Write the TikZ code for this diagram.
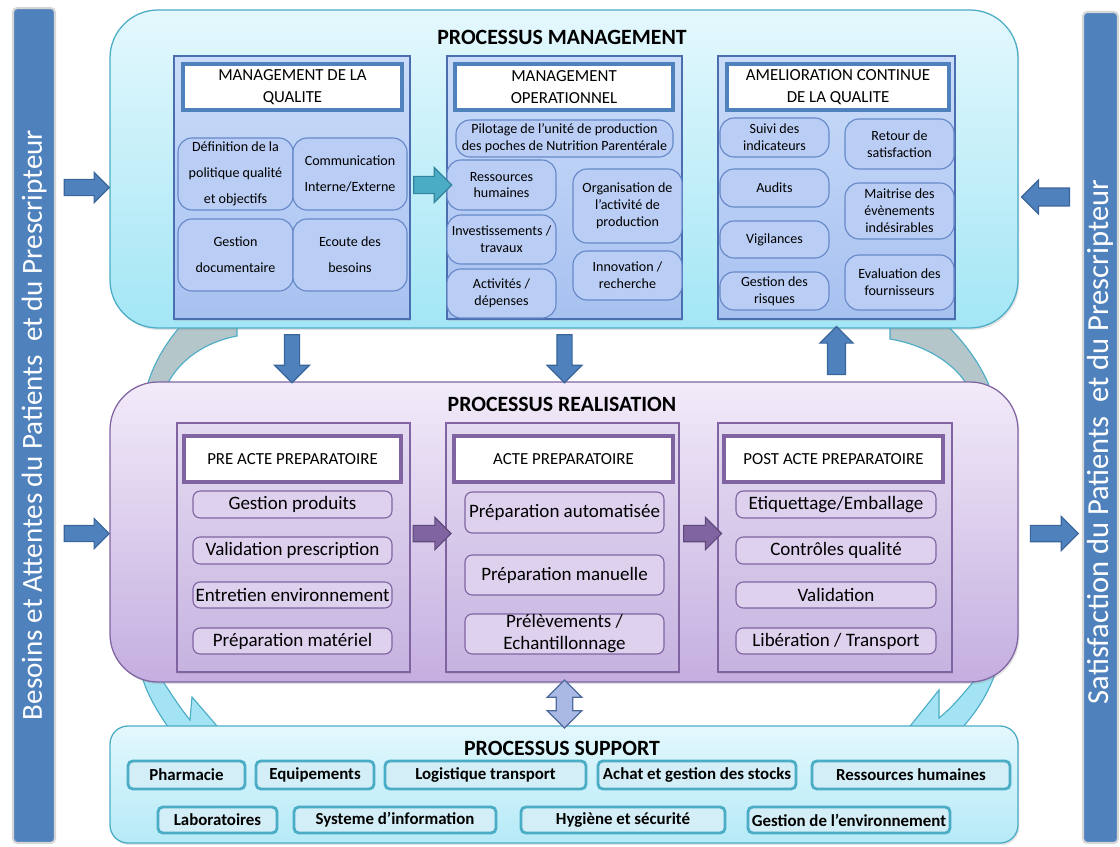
\documentclass[tikz,border=0pt]{standalone}
\usepackage{fontspec}
\usepackage{graphicx}
\setmainfont{Carlito}
\usetikzlibrary{calc,shapes.arrows,shadows}

\definecolor{barblue}{HTML}{4F81BD}
\definecolor{barline}{HTML}{D6D6D6}
\definecolor{arrowblueline}{HTML}{3A659A}
\definecolor{tealline}{HTML}{4BACC6}
\definecolor{tealdark}{HTML}{31849B}
\definecolor{cyantop}{HTML}{E4F8FD}
\definecolor{cyanbot}{HTML}{A3E6F5}
\definecolor{lavtop}{HTML}{F2EBF9}
\definecolor{lavbot}{HTML}{C4AEE0}
\definecolor{purpline}{HTML}{8064A2}
\definecolor{purpdark}{HTML}{5F497A}
\definecolor{panelbluetop}{HTML}{CADCF9}
\definecolor{panelbluebot}{HTML}{A7C1F0}
\definecolor{panelblueline}{HTML}{4A6EB0}
\definecolor{taskblue}{HTML}{BACDF4}
\definecolor{taskblueline}{HTML}{6688C8}
\definecolor{panelpurptop}{HTML}{E4DBF1}
\definecolor{panelpurpbot}{HTML}{C6B3E0}
\definecolor{taskpurp}{HTML}{DDD1EE}
\definecolor{supptop}{HTML}{E3F8FD}
\definecolor{suppbot}{HTML}{B5EAF7}
\definecolor{supptaskfill}{HTML}{D3EEF6}
\definecolor{cyclegrayfill}{HTML}{B5C6CB}
\definecolor{cyclecyanfill}{HTML}{A4E3F3}
\definecolor{dblline}{HTML}{4F6A9F}
\definecolor{dbledge}{HTML}{A9B9E3}

\begin{document}
\begin{tikzpicture}[x=0.025cm,y=-0.025cm]

    \tikzset{
      boxsize/.style 2 args={minimum width=#1*0.025cm, minimum height=#2*0.025cm},
      softshadow/.style={
        drop shadow={opacity=0.22, shadow xshift=1pt, shadow yshift=-1.5pt},
      },
      sidebar/.style={draw=barline, line width=1.5pt, fill=barblue, rounded corners=3pt, inner sep=0pt},
      sidetext/.style={text=white, inner sep=0pt, rotate=90, font=\fontsize{20}{24}\selectfont},
      proctitle/.style={inner sep=0pt, font=\fontsize{15.5}{18}\selectfont\bfseries},
      mgmtbox/.style={draw=tealline, line width=0.9pt, rounded corners=1.2cm,
        top color=cyantop, bottom color=cyanbot, inner sep=0pt, softshadow},
      realbox/.style={draw=purpline, line width=0.9pt, rounded corners=1.2cm,
        top color=lavtop, bottom color=lavbot, inner sep=0pt, softshadow},
      suppbox/.style={draw=tealline, line width=0.9pt, rounded corners=0.45cm,
        top color=supptop, bottom color=suppbot, inner sep=0pt, softshadow},
      bluepanel/.style={draw=panelblueline, line width=0.9pt,
        top color=panelbluetop, bottom color=panelbluebot, inner sep=0pt, softshadow},
      purppanel/.style={draw=purpline, line width=0.9pt,
        top color=panelpurptop, bottom color=panelpurpbot, inner sep=0pt, softshadow},
      bluehead/.style={draw=barblue, line width=2.2pt, fill=white, inner sep=0pt,
        align=center, font=\fontsize{12}{15.4}\selectfont},
      purphead/.style={draw=purpline, line width=2.2pt, fill=white, inner sep=0pt,
        align=center, font=\fontsize{12}{15.4}\selectfont},
      bluetask/.style={draw=taskblueline, line width=0.8pt, fill=taskblue, rounded corners=0.35cm,
        inner sep=0pt, align=center, font=\fontsize{10}{12}\selectfont},
      widetask/.style={bluetask, font=\fontsize{10}{18.5}\selectfont},
      purptask/.style={draw=purpline, line width=0.8pt, fill=taskpurp, rounded corners=0.18cm,
        inner sep=0pt, align=center, font=\fontsize{13.5}{15.6}\selectfont},
      supptask/.style={draw=tealline, line width=2pt, fill=supptaskfill, rounded corners=0.12cm,
        inner sep=0pt, font=\fontsize{12}{14}\selectfont\bfseries},
      cyclegray/.style={draw=tealline, line width=0.8pt, fill=cyclegrayfill},
      cyclecyan/.style={draw=tealline, line width=0.8pt, fill=cyclecyanfill},
      blockarrow/.style={single arrow, line width=0.8pt},
      bluearrow/.style={blockarrow, fill=barblue, draw=arrowblueline},
      tealarrow/.style={blockarrow, fill=tealline, draw=tealdark},
      purparrow/.style={blockarrow, fill=purpline, draw=purpdark},
    }
    \useasboundingbox (0,0) rectangle (1120,847);

    \draw[cyclegray] (190,310) -- (237,310) -- (237,336) .. controls (205,342) and (180,360) .. (168,383)
      -- (164,398) -- (143,398) -- (148,383) .. controls (155,360) and (168,340) .. (184,322) -- cycle;
    \draw[cyclegray] (890,310) -- (890,339) .. controls (925,345) and (952,362) .. (966,383)
      -- (970,398) -- (992,398) -- (988,383) .. controls (978,360) and (962,340) .. (944,322) -- (943,310) -- cycle;
    \draw[cyclecyan] (138,665) -- (143,680) .. controls (150,700) and (158,712) .. (170,730)
      -- (174,740) -- (229,740) -- (192,697) -- (190,720) .. controls (180,708) and (170,692) .. (162,680) -- (160,665) -- cycle;
    \draw[cyclecyan] (999,662) -- (995,674) .. controls (988,693) and (978,710) .. (962,728)
      -- (955,740) -- (899,740) -- (939,690) -- (939,718) .. controls (955,705) and (966,690) .. (975,680) -- (977,662) -- cycle;

    \node[sidebar, boxsize={42}{835}] (lbar) at (34,425.5) {};
    \node[sidetext] (ltext) at (34,425) {\resizebox{14.75cm}{!}{Besoins et Attentes du Patients\ \ et du Prescripteur}};
    \node[sidebar, boxsize={35}{831}] (rbar) at (1100.5,427.5) {};
    \node[sidetext] (rtext) at (1100,442) {\resizebox{13.1cm}{!}{Satisfaction du Patients\ \ et du Prescripteur}};

    \node[mgmtbox, boxsize={908}{318}] (mgmt) at (564,169) {};
    \node[proctitle] (mgmttitle) at (562,37) {PROCESSUS MANAGEMENT};

    \node[bluepanel, boxsize={236}{263}] (mq) at (292,187.5) {};
    \node[bluehead, boxsize={219}{46}] (mqh) at (292.5,87) {MANAGEMENT DE LA\\QUALITE};
    \node[widetask, boxsize={115}{72}] (t11) at (235.5,174) {Définition de la\\politique qualité\\et objectifs};
    \node[widetask, boxsize={114}{72}] (t12) at (350,174) {Communication\\Interne/Externe};
    \node[widetask, boxsize={115}{72}] (t13) at (235.5,255) {Gestion\\documentaire};
    \node[widetask, boxsize={114}{72}] (t14) at (350,255) {Ecoute des\\besoins};

    \node[bluepanel, boxsize={235}{263}] (mo) at (564.5,187.5) {};
    \node[bluehead, boxsize={218}{46}] (moh) at (564,87) {MANAGEMENT\\OPERATIONNEL};
    \node[bluetask, boxsize={217}{37}] (t21) at (564.5,138.5) {Pilotage de l’unité de production\\des poches de Nutrition Parentérale};
    \node[bluetask, boxsize={109}{50}] (t22) at (501.5,185) {Ressources\\humaines};
    \node[bluetask, boxsize={109}{49}] (t23) at (501.5,239.5) {Investissements /\\travaux};
    \node[bluetask, boxsize={109}{49}] (t24) at (501.5,293.5) {Activités /\\dépenses};
    \node[bluetask, boxsize={109}{74}] (t25) at (627.5,206) {Organisation de\\l’activité de\\production};
    \node[bluetask, boxsize={109}{49}] (t26) at (627.5,275.5) {Innovation /\\recherche};

    \node[bluepanel, boxsize={237}{263}] (ma) at (836.5,187.5) {};
    \node[bluehead, boxsize={222}{46}] (mah) at (838,87) {AMELIORATION CONTINUE\\DE LA QUALITE};
    \node[bluetask, boxsize={109}{39}] (t31) at (774.5,137.5) {Suivi des\\indicateurs};
    \node[bluetask, boxsize={109}{38}] (t32) at (774.5,188) {Audits};
    \node[bluetask, boxsize={109}{37}] (t33) at (774.5,239.5) {Vigilances};
    \node[bluetask, boxsize={109}{38}] (t34) at (774.5,291) {Gestion des\\risques};
    \node[bluetask, boxsize={109}{50}] (t35) at (899.5,144) {Retour de\\satisfaction};
    \node[bluetask, boxsize={109}{56}] (t36) at (899.5,211) {Maitrise des\\évènements\\indésirables};
    \node[bluetask, boxsize={109}{55}] (t37) at (899.5,282.5) {Evaluation des\\fournisseurs};

    \node[realbox, boxsize={908}{300}] (real) at (564,532) {};
    \node[proctitle] (realtitle) at (562,404) {PROCESSUS REALISATION};

    \node[purppanel, boxsize={233}{249}] (pre) at (293.5,547.5) {};
    \node[purphead, boxsize={217}{46}] (preh) at (292.5,459) {PRE ACTE PREPARATOIRE};
    \node[purptask, boxsize={199}{27}] (r11) at (292.5,504.5) {Gestion produits};
    \node[purptask, boxsize={199}{27}] (r12) at (292.5,550.5) {Validation prescription};
    \node[purptask, boxsize={199}{26}] (r13) at (292.5,595) {Entretien environnement};
    \node[purptask, boxsize={199}{26}] (r14) at (292.5,641) {Préparation matériel};

    \node[purppanel, boxsize={233}{249}] (acte) at (562.5,547.5) {};
    \node[purphead, boxsize={219}{46}] (acteh) at (563.5,459) {ACTE PREPARATOIRE};
    \node[purptask, boxsize={199}{41}] (r21) at (564.5,512.5) {Préparation automatisée};
    \node[purptask, boxsize={199}{40}] (r22) at (564.5,575) {Préparation manuelle};
    \node[purptask, boxsize={199}{40}] (r23) at (564.5,634) {Prélèvements /\\Echantillonnage};

    \node[purppanel, boxsize={234}{249}] (post) at (835,547.5) {};
    \node[purphead, boxsize={219}{46}] (posth) at (833.5,459) {POST ACTE PREPARATOIRE};
    \node[purptask, boxsize={200}{27}] (r31) at (836,504.5) {Etiquettage/Emballage};
    \node[purptask, boxsize={200}{27}] (r32) at (836,550.5) {Contrôles qualité};
    \node[purptask, boxsize={200}{26}] (r33) at (836,595) {Validation};
    \node[purptask, boxsize={200}{26}] (r34) at (836,641) {Libération / Transport};

    \node[suppbox, boxsize={908}{117}] (supp) at (564,784.5) {};
    \node[proctitle] (supptitle) at (562,748) {PROCESSUS SUPPORT};
    \node[supptask, boxsize={117}{28}] (s1) at (186.5,775) {Pharmacie};
    \node[supptask, boxsize={118}{28}] (s2) at (315,775) {Equipements};
    \node[supptask, boxsize={201}{28}] (s3) at (485.5,775) {Logistique transport};
    \node[supptask, boxsize={198}{28}] (s4) at (697,775) {Achat et gestion des stocks};
    \node[supptask, boxsize={198}{28}] (s5) at (911,775) {Ressources humaines};
    \node[supptask, boxsize={119}{26}] (s6) at (217.5,820) {Laboratoires};
    \node[supptask, boxsize={202}{26}] (s7) at (395,820) {Systeme d’information};
    \node[supptask, boxsize={204}{26}] (s8) at (623,820) {Hygiène et sécurité};
    \node[supptask, boxsize={202}{26}] (s9) at (849,820) {Gestion de l’environnement};

    \node[bluearrow, minimum height=1.125cm, inner sep=0.1875cm, single arrow head extend=0.175cm] (inM)
      at ($(lbar.east |- mq.east)!.5!(mgmt.west |- mq.east)$) {};
    \node[bluearrow, minimum height=1.125cm, inner sep=0.1875cm, single arrow head extend=0.175cm] (inR)
      at ($(lbar.east |- r21.south)!.5!(real.west |- r21.south)$) {};
    \node[bluearrow, shape border rotate=180, minimum height=1.2cm, inner sep=0.21cm, single arrow head extend=0.2cm] (backM)
      at (1050,197) {};
    \node[bluearrow, minimum height=1.2cm, inner sep=0.19cm, single arrow head extend=0.225cm] (outR)
      at ($(real.east |- r21.south)!.5!(rbar.west |- r21.south)$) {};
    \node[bluearrow, shape border rotate=270, minimum height=1.2cm, inner sep=0.175cm, single arrow head extend=0.25cm] (downQ)
      at ($(mgmt.south -| mq.south)!.5!(real.north -| mq.south)$) {};
    \node[bluearrow, shape border rotate=270, minimum height=1.2cm, inner sep=0.175cm, single arrow head extend=0.25cm] (downO)
      at ($(mgmt.south -| mo.south)!.5!(real.north -| mo.south)$) {};
    \node[bluearrow, shape border rotate=90, minimum height=1.2cm, inner sep=0.21cm, single arrow head extend=0.19cm] (upA)
      at ($(mgmt.south -| ma.south)!.5!(real.north -| ma.south)$) {};
    \node[tealarrow, minimum height=0.95cm, inner sep=0.2cm, single arrow head extend=0.225cm] (qtoo)
      at ($(mq.east |- t22.center)!.5!(mo.west |- t22.center)$) {};
    \node[purparrow, minimum height=0.95cm, inner sep=0.19cm, single arrow head extend=0.2cm] (pretoacte)
      at ($(pre.east |- r21.south)!.5!(acte.west |- r21.south)$) {};
    \node[purparrow, minimum height=0.95cm, inner sep=0.19cm, single arrow head extend=0.2cm] (actetopost)
      at ($(acte.east |- r21.south)!.5!(post.west |- r21.south)$) {};
    \node[double arrow, double arrow head extend=0.225cm, shape border rotate=90, draw=dblline, line width=0.9pt,
      left color=dbledge, middle color=white, right color=dbledge,
      minimum height=1.2cm, inner sep=0.19cm] (realsupp)
      at ($(real.south -| mo.south)!.5!(supp.north -| mo.south)$) {};

\end{tikzpicture}
\end{document}
